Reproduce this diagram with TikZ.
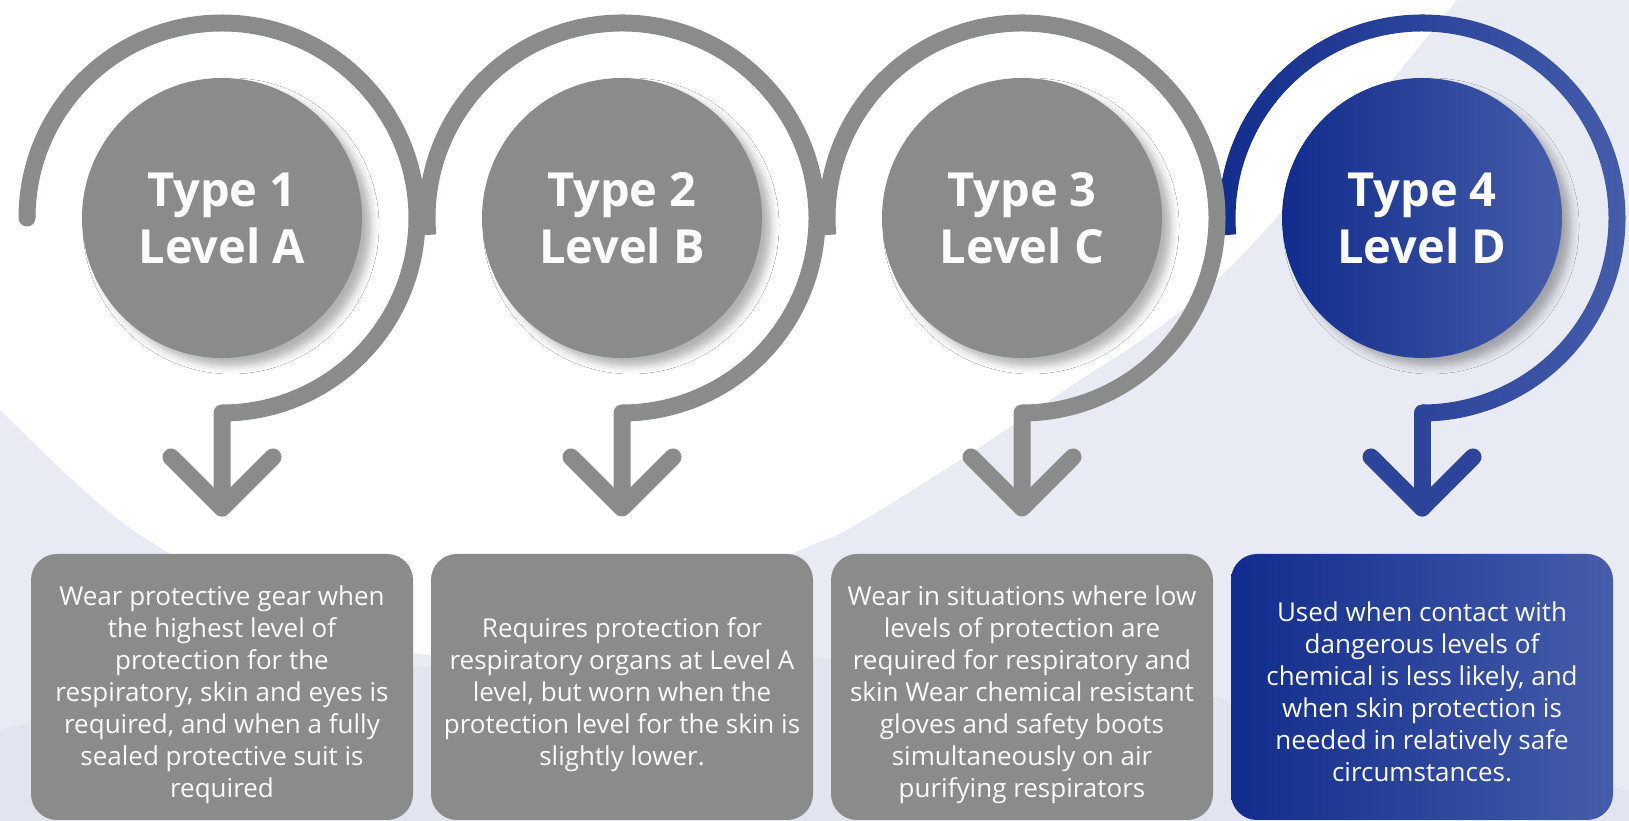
\documentclass[tikz,border=0pt]{standalone}
\usepackage{fontspec}
\setmainfont{Open Sans}
\usetikzlibrary{shadows.blur}
\definecolor{pgray}{RGB}{138,140,139}
\definecolor{blueL}{RGB}{17,44,140}
\definecolor{blueR}{RGB}{70,93,170}
\colorlet{blueM}{blueL!50!blueR}
\definecolor{bgl}{RGB}{233,235,244}
\definecolor{bgband}{RGB}{226,228,239}
\definecolor{txt}{RGB}{252,252,252}
\begin{document}
\begin{tikzpicture}[x=1pt,y=1pt,
  ring/.style={line width=17pt, line join=round},
  disc/.style={circle, inner sep=0pt, minimum size=280pt,
     blur shadow={shadow xshift=9pt, shadow yshift=-8pt, shadow blur radius=8pt, shadow opacity=30}},
  title/.style={text=txt, align=center, font={\fontsize{47}{57}\selectfont\bfseries}},
  infobox/.style={rounded corners=26pt, minimum width=382pt, minimum height=266pt, inner sep=0pt},
  info/.style={text=txt, align=center, font={\fontsize{26}{31.9}\selectfont}}]
\useasboundingbox (0,0) rectangle (1629,821);
% background
\begin{scope}
  \clip (0,0) rectangle (1629,821);
  \fill[bgl] (0,0) rectangle (1629,821);
  \fill[white] plot[smooth, tension=0.6] coordinates {(-60,471) (0,411) (133,291) (290,209) (430,166) (600,189) (800,271) (867,303) (1050,421) (1230,554) (1457,821) (1500,881)}
     -- (1500,900) -- (-60,900) -- cycle;
  \fill[bgband] (694,-3105) circle[radius=3270];
\end{scope}
% blue ring with arrow (type 4)
\begin{scope}[shift={(1422,603)}]
  \shade[left color=blueL, right color=blueR]
    (185:203.5) arc[start angle=185, end angle=-90, radius=203.5]
    -- (-90:186.5) arc[start angle=-90, end angle=185, radius=186.5] -- cycle;
  \draw[ring, line cap=round, blueM] (0,-195) -- (0,-290);
  \draw[ring, line cap=round, blueM] (-51,-239) -- (0,-290) -- (51,-239);
  \coordinate (a4) at (0,-290);
\end{scope}
% gray rings with arrows
\foreach \cx/\sa/\cp/\n in {222/180/round/1, 622/185/butt/2, 1022/185/butt/3} {
  \begin{scope}[shift={(\cx,603)}]
    \draw[ring, line cap=\cp, pgray] (\sa:195) arc[start angle=\sa, end angle=-90, radius=195] -- (0,-290);
    \draw[ring, line cap=round, pgray] (-51,-239) -- (0,-290) -- (51,-239);
    \coordinate (a\n) at (0,-290);
  \end{scope}
}
% discs
\foreach \cx/\n in {222/1, 622/2, 1022/3}
  \node[disc, fill=pgray] (c\n) at (\cx,603) {};
\node[disc, left color=blueL, right color=blueR] (c4) at (1422,603) {};
\node[title] (h1) at (222,603) {Type 1\\Level A};
\node[title] (h2) at (622,603) {Type 2\\Level B};
\node[title] (h3) at (1022,603) {Type 3\\Level C};
\node[title] (h4) at (1422,603) {Type 4\\Level D};
% boxes
\foreach \cx/\n in {222/1, 622/2, 1022/3}
  \node[infobox, fill=pgray] (b\n) at (\cx,134) {};
\node[infobox, left color=blueL, right color=blueR] (b4) at (1422,134) {};
\node[info] (t1) at (222,126) {\strut Wear protective gear when\\the highest level of\\protection for the\\respiratory, skin and eyes is\\required, and when a fully\\sealed protective suit is\\required\strut};
\node[info] (t2) at (622,126) {\strut Requires protection for\\respiratory organs at Level A\\level, but worn when the\\protection level for the skin is\\slightly lower.\strut};
\node[info] (t3) at (1022,126) {\strut Wear in situations where low\\levels of protection are\\required for respiratory and\\skin Wear chemical resistant\\gloves and safety boots\\simultaneously on air\\purifying respirators\strut};
\node[info] (t4) at (1422,126) {\strut Used when contact with\\dangerous levels of\\chemical is less likely, and\\when skin protection is\\needed in relatively safe\\circumstances.\strut};
\end{tikzpicture}
\end{document}
